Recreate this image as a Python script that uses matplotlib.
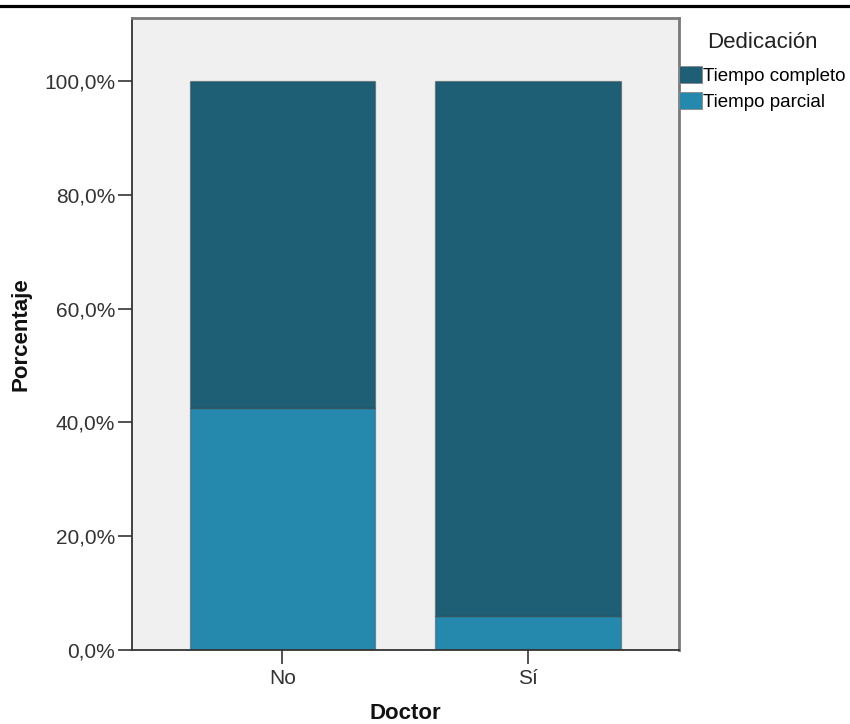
import matplotlib
matplotlib.use("Agg")
import matplotlib.pyplot as plt
from matplotlib.ticker import FuncFormatter
from matplotlib.lines import Line2D

plt.rcParams['font.family'] = ['Liberation Sans', 'DejaVu Sans']

doctor = ["No", "Sí"]
tiempo_completo = [57.5, 94.0]
tiempo_parcial = [42.5, 6.0]
series_labels = ["Tiempo completo", "Tiempo parcial"]

c_completo = "#1f5f75"
c_parcial = "#2489ad"
edge = (0.15, 0.15, 0.15, 0.35)

fig = plt.figure(figsize=(8.5, 7.24), dpi=100)
ax = fig.add_axes([132/850, 74/724, 547/850, 632/724])
ax.set_facecolor("#f0f0f0")

x = range(len(doctor))
b1 = ax.bar(x, tiempo_parcial, width=0.757, color=c_parcial, edgecolor=edge, linewidth=1)
b2 = ax.bar(x, tiempo_completo, width=0.757, bottom=tiempo_parcial, color=c_completo,
            edgecolor=edge, linewidth=1)

ax.set_xlim(-0.613, 1.615)
ax.set_ylim(0, 111.1)
ax.set_yticks([0, 20, 40, 60, 80, 100])
ax.yaxis.set_major_formatter(FuncFormatter(lambda v, p: f"{v:.1f}%".replace(".", ",")))
ax.set_xticks(list(x))
ax.set_xticklabels(doctor)

ax.tick_params(axis="both", direction="out", length=10, width=1.2, color="#333333",
               labelsize=15, labelcolor="#333333", pad=2)
ax.tick_params(axis="x", pad=4)

for s in ["left", "bottom"]:
    ax.spines[s].set_color("#333333")
    ax.spines[s].set_linewidth(1.3)
for s in ["top", "right"]:
    ax.spines[s].set_color("#7a7a7a")
    ax.spines[s].set_linewidth(2)

ax.set_ylabel("Porcentaje", fontsize=16, fontweight="bold", labelpad=9, color="#111111")
ax.set_xlabel("Doctor", fontsize=16, fontweight="bold", labelpad=10.5, color="#111111")

leg = fig.legend([b2, b1], series_labels, loc="upper left", bbox_to_anchor=(679/850, 1 - 32/724),
                 frameon=False, fontsize=13.5, title="Dedicación", title_fontsize=16,
                 handlelength=1.2, handleheight=1.05, handletextpad=0.1, labelspacing=0.4,
                 borderpad=0, borderaxespad=0)
leg._legend_box.align = "center"
leg._legend_box.sep = 9
for h in leg.legend_handles:
    h.set_edgecolor("#888888")
    h.set_linewidth(0.6)
leg.get_title().set_color("#222222")

fig.add_artist(Line2D([0, 1], [1 - 5.8/724, 1 - 5.8/724], color="black", linewidth=2.3,
                      transform=fig.transFigure))

fig.savefig("out.png", dpi=100)
